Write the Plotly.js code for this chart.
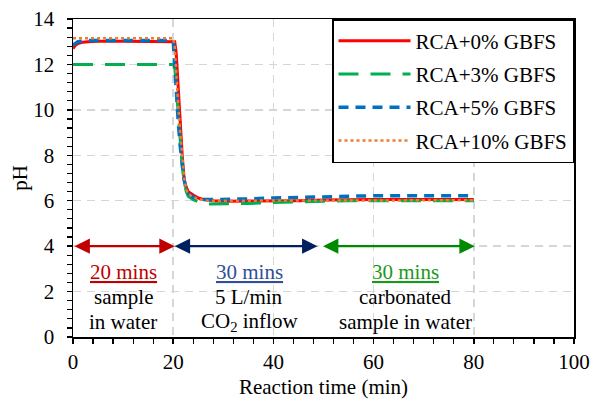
<!DOCTYPE html>
<html>
<head>
<meta charset="utf-8">
<script src="https://cdn.plot.ly/plotly-3.0.1.min.js"></script>
<style>html,body{margin:0;padding:0;background:#fff;}#chart{width:592px;height:399px;}</style>
</head>
<body>
<div id="chart"></div>
<script>
// Reaction time (min)
var time = [0, 0.5, 1, 2, 3, 5, 10, 15, 19, 20, 20.3, 20.6, 21, 21.4, 21.8, 22.2, 22.6, 23, 24, 25, 26, 27, 28, 30, 35, 40, 45, 50, 55, 60, 65, 70, 75, 80];
// pH series
var ph0 = [12.7, 12.85, 12.92, 12.98, 13.0, 13.02, 13.02, 13.02, 13.02, 13.02, 13.0, 12.5, 11.2, 9.5, 8.0, 6.9, 6.6, 6.4, 6.25, 6.12, 6.06, 6.02, 6.0, 5.98, 5.98, 6.0, 6.0, 6.03, 6.05, 6.05, 6.05, 6.05, 6.05, 6.05];
var ph3 = [12.0, 12.0, 12.0, 12.0, 12.0, 12.0, 12.0, 12.0, 12.0, 12.0, 11.9, 11.0, 9.8, 8.6, 7.5, 6.8, 6.4, 6.2, 6.05, 5.95, 5.88, 5.85, 5.85, 5.86, 5.88, 5.92, 5.95, 5.98, 6.0, 6.0, 6.0, 6.0, 6.0, 6.0];
var ph5 = [12.85, 12.95, 13.0, 13.02, 13.05, 13.05, 13.05, 13.05, 13.05, 13.05, 12.0, 10.8, 9.5, 8.4, 7.5, 6.9, 6.5, 6.3, 6.15, 6.08, 6.05, 6.05, 6.05, 6.05, 6.08, 6.12, 6.15, 6.18, 6.2, 6.22, 6.22, 6.22, 6.22, 6.22];
var ph10 = [13.15, 13.15, 13.15, 13.15, 13.15, 13.15, 13.15, 13.15, 13.15, 13.15, 12.8, 11.5, 10.2, 9.0, 7.8, 7.0, 6.5, 6.3, 6.15, 6.08, 6.02, 6.0, 6.0, 6.0, 6.0, 6.0, 6.0, 6.02, 6.02, 6.02, 6.02, 6.02, 6.02, 6.02];
var seriesNames = ['RCA+0% GBFS', 'RCA+3% GBFS', 'RCA+5% GBFS', 'RCA+10% GBFS'];
// Stage annotations
var stageStart = [0, 20, 49.6];
var stageEnd = [20.3, 48.8, 80.2];
var stageArrowY = 4;
var stageDuration = ['20 mins', '30 mins', '30 mins'];
var stageLine1 = ['sample', '5 L/min', 'carbonated'];
var stageLine2 = ['in water', 'CO<sub>2</sub> inflow', 'sample in water'];
var stageCenter = [10, 35.2, 66.4];

var font = "'Liberation Serif', 'Times New Roman', Times, serif";
var arrowColors = ['#c00000', '#002060', '#008a00'];
var textColors = ['#c00000', '#2f4f9a', '#1a9a1a'];

var traces = [
  {x: time, y: ph0, name: seriesNames[0], mode: 'lines', line: {color: '#ff0000', width: 3}, legendgroup: 'a', legendrank: 1},
  {x: time, y: ph3, name: seriesNames[1], mode: 'lines', line: {color: '#00b050', width: 3, dash: '20px,12px'}, legendgroup: 'b', legendrank: 2},
  {x: time, y: ph5, name: seriesNames[2], mode: 'lines', line: {color: '#0070c0', width: 3.5, dash: '10px,7px'}, legendgroup: 'c', legendrank: 3},
  {x: time, y: ph10, name: seriesNames[3], mode: 'lines', line: {color: '#ed7d31', width: 2.5, dash: 'dot'}, legendgroup: 'd', legendrank: 4}
];

var annotations = [];
for (var i = 0; i < stageStart.length; i++) {
  annotations.push({x: stageEnd[i], y: stageArrowY, ax: stageStart[i], ay: stageArrowY, axref: 'x', ayref: 'y', xref: 'x', yref: 'y',
    text: '', showarrow: true, arrowside: 'end+start', arrowhead: 2, arrowsize: 1.4, arrowwidth: 2.2, arrowcolor: arrowColors[i]});
  annotations.push({x: stageCenter[i], y: 2.88, xref: 'x', yref: 'y', text: '<u>' + stageDuration[i] + '</u>', showarrow: false,
    font: {family: font, size: 21, color: textColors[i]}, yanchor: 'middle'});
  annotations.push({x: stageCenter[i], y: 1.78, xref: 'x', yref: 'y', text: stageLine1[i], showarrow: false,
    font: {family: font, size: 21, color: '#000'}, yanchor: 'middle'});
  annotations.push({x: stageCenter[i], y: 0.66, xref: 'x', yref: 'y', text: stageLine2[i], showarrow: false,
    font: {family: font, size: 21, color: '#000'}, yanchor: 'middle'});
}

var layout = {
  width: 592, height: 399,
  margin: {l: 73, r: 18, t: 19, b: 62},
  paper_bgcolor: '#fff', plot_bgcolor: '#fff',
  font: {family: font, size: 21, color: '#000'},
  showlegend: true,
  legend: {x: 1, y: 1, xanchor: 'right', yanchor: 'top', bgcolor: '#fff', bordercolor: '#000', borderwidth: 1.5,
    font: {family: font, size: 21, color: '#000'}, traceorder: 'grouped', tracegroupgap: 3, itemwidth: 72},
  xaxis: {range: [0, 100], dtick: 20, tick0: 0, showline: true, linecolor: '#000', linewidth: 1.5, mirror: true,
    ticks: 'outside', ticklen: 5, tickwidth: 1.5, tickcolor: '#000',
    showgrid: true, gridcolor: '#d6d6d6', gridwidth: 1.5, griddash: '8px,6px', zeroline: false,
    minor: {dtick: 4, ticks: 'outside', ticklen: 5, tickwidth: 1.2, tickcolor: '#000', showgrid: false},
    title: {text: 'Reaction time (min)', font: {family: font, size: 21}, standoff: 6},
    tickfont: {family: font, size: 21}},
  yaxis: {range: [0, 14], dtick: 2, tick0: 0, showline: true, linecolor: '#000', linewidth: 1.5, mirror: true,
    ticks: 'outside', ticklen: 5, tickwidth: 1.5, tickcolor: '#000', ticklabelstandoff: 8,
    showgrid: true, gridcolor: '#d6d6d6', gridwidth: 1.5, griddash: '8px,6px', zeroline: false,
    minor: {dtick: 0.4, ticks: 'outside', ticklen: 5, tickwidth: 1.2, tickcolor: '#000', showgrid: false},
    title: {text: 'pH', font: {family: font, size: 21}, standoff: 0},
    tickfont: {family: font, size: 21}},
  xaxis2: {overlaying: 'x', anchor: 'y', range: [0, 100], dtick: 20, tick0: 0, ticks: 'inside', ticklen: 5, tickwidth: 1.5, tickcolor: '#000',
    showticklabels: false, showgrid: false, zeroline: false, showline: false, side: 'bottom'},
  yaxis2: {overlaying: 'y', anchor: 'x', range: [0, 14], dtick: 2, tick0: 0, ticks: 'inside', ticklen: 5, tickwidth: 1.5, tickcolor: '#000',
    showticklabels: false, showgrid: false, zeroline: false, showline: false, side: 'left'},
  annotations: annotations
};

Plotly.newPlot('chart', traces, layout, {staticPlot: true, displayModeBar: false});
</script>
</body>
</html>
